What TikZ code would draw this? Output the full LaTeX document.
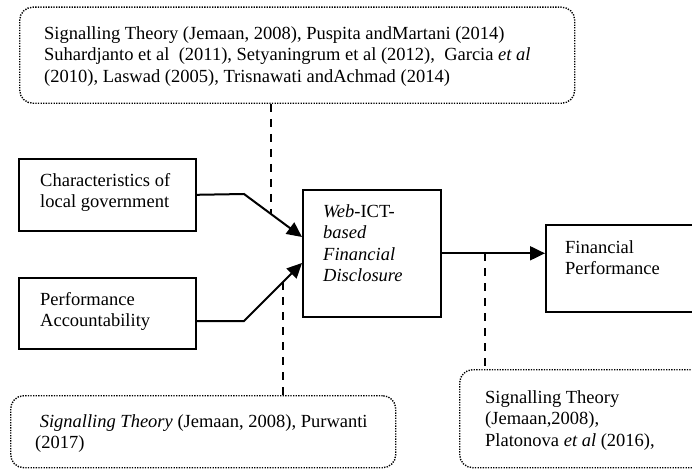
\documentclass[tikz,border=0pt]{standalone}
\usepackage{fontspec}
\setmainfont{Liberation Serif}
\usetikzlibrary{arrows.meta,calc}
\newcommand\ml[1]{\begin{tabular}[t]{@{}l@{}}#1\end{tabular}}
\begin{document}
\begin{tikzpicture}[x=1pt,y=-1pt,
  box/.style={draw, line width=1.6pt, inner sep=0pt, anchor=north west},
  lit/.style={draw, line width=1.4pt, dash pattern=on 1.3pt off 1.3pt, rounded corners=13pt, inner sep=0pt, anchor=north west},
  txt/.style={inner sep=0pt, anchor=base west, font=\fontsize{18.5}{21.5}\selectfont},
  link/.style={line width=2pt, -{Triangle[length=15pt,width=14pt]}},
  dashlink/.style={line width=1.6pt, dash pattern=on 8pt off 7pt}]
\clip (0,0) rectangle (692,468);
% boxes
\node[box, minimum width=177pt, minimum height=72pt] (char) at (18,158) {};
\node[box, minimum width=177pt, minimum height=71pt] (perf) at (18,277) {};
\node[box, minimum width=138pt, minimum height=127pt] (web) at (302,189) {};
\node[box, minimum width=190pt, minimum height=87pt] (fin) at (545,224) {};
\node[lit, minimum width=555pt, minimum height=96pt] (lit1) at (19,6.5) {};
\node[lit, minimum width=385pt, minimum height=72pt] (lit2) at (10,395) {};
\node[lit, minimum width=270pt, minimum height=98pt] (lit3) at (459,369) {};
% texts
\node[txt] (t1) at (44,39.5) {\ml{Signalling Theory (Jemaan, 2008), Puspita andMartani (2014)\\
Suhardjanto et al\ \ (2011), Setyaningrum et al (2012),\ \ Garcia \textit{et al}\\
(2010), Laswad (2005), Trisnawati andAchmad (2014)}};
\node[txt] (tchar) at (40,186) {\ml{Characteristics of\\local government}};
\node[txt] (tperf) at (40,305) {\ml{Performance\\Accountability}};
\node[txt] (tweb) at (323,217) {\ml{\textit{Web}-ICT-\\\textit{based}\\\textit{Financial}\\\textit{Disclosure}}};
\node[txt] (tfin) at (565,253) {\ml{Financial\\Performance}};
\node[txt] (t2) at (35,427) {\ml{\hspace*{4.6pt}\textit{Signalling Theory} (Jemaan, 2008), Purwanti\\(2017)}};
\node[txt] (t3) at (485,403) {\ml{Signalling Theory\\(Jemaan,2008),\\Platonova \textit{et al} (2016),}};
% connectors
\coordinate (ec) at (244,194);
\coordinate (tc) at ($(web.north west)+(0,48)$);
\coordinate (ep) at (244,321);
\coordinate (tp) at ($(web.north west)+(0,74)$);
\draw[link] (char.east) -- (ec) -- (tc);
\draw[link] (perf.east |- ep) -- (ep) -- (tp);
\draw[link] (web.east) -- (web.east -| fin.west);
% dashed links
\coordinate (u) at ($(ec)!0.4655!(tc)$);
\coordinate (l) at ($(ep)!0.672!(tp)$);
\coordinate (r) at ($(web.east)!0.419!(web.east -| fin.west)$);
\draw[dashlink] (u |- lit1.south) -- (u);
\draw[dashlink] (l) -- (l |- lit2.north);
\draw[dashlink] (r) -- (r |- lit3.north);
\end{tikzpicture}
\end{document}
